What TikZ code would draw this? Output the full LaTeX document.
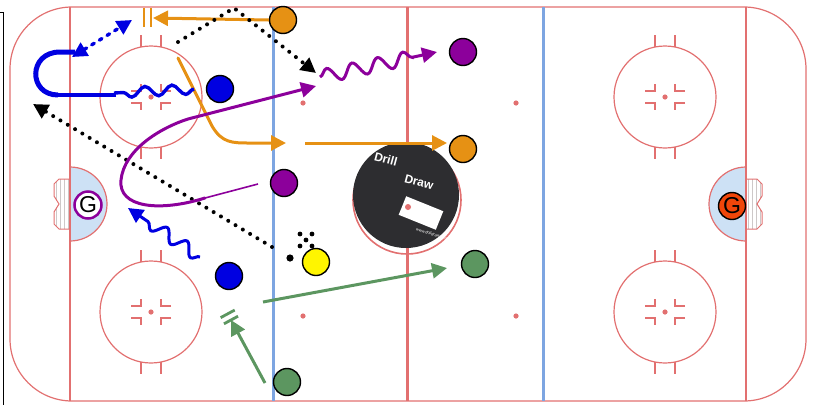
\documentclass[tikz,border=0pt]{standalone}
\usepackage{fontspec}
\setmainfont{Liberation Sans}
\usetikzlibrary{
	arrows.meta, positioning, calc, shapes.geometric,
	decorations.pathmorphing
}
\definecolor{rinkred}{RGB}{226, 112, 112}
\definecolor{rinkblue}{RGB}{125, 165, 225}
\definecolor{creaseblue}{RGB}{205, 225, 245}
\definecolor{netgray}{RGB}{205, 200, 200}
\definecolor{drillorange}{RGB}{230, 145, 20}
\definecolor{drillpurple}{RGB}{140, 0, 155}
\definecolor{drillblue}{RGB}{0, 0, 225}
\definecolor{drillgreen}{RGB}{92, 150, 96}
\definecolor{drillyellow}{RGB}{255, 245, 0}
\definecolor{goalred}{RGB}{240, 70, 10}
\definecolor{puckgray}{RGB}{45, 45, 48}

\begin{document}
\begin{tikzpicture}[x=1pt, y=-1pt,
	rink/.style={draw=rinkred, line width=1.2pt},
	player/.style={circle, draw=black, line width=1.4pt, minimum size=27pt, inner sep=0pt},
	goalie/.style={circle, minimum size=27pt, inner sep=0pt, font=\fontsize{23}{23}\selectfont},
	logotext/.style={text=white, inner sep=0pt, rotate=-15, font=\bfseries\fontsize{12}{12}\selectfont},
	head/.style={-{Triangle[length=15pt, width=15pt]}},
	skate/.style={line width=3pt, line cap=round},
	carry/.style={line width=3pt, decorate, decoration={snake, amplitude=7pt, segment length=26pt, post length=15pt}},
	passline/.style={line width=3pt},
	dots/.style={line width=4pt, line cap=round, dash pattern=on 0pt off 8.5pt}
]
\useasboundingbox (0,0) rectangle (816,405);
\draw[line width=1pt] (0,12) -- (3.5,12) -- (3.5,405);

% creases and nets
\draw[rink, fill=creaseblue] (70,167) arc[start angle=-90, end angle=90, radius=37] -- cycle;
\draw[rink, fill=creaseblue] (746,167) arc[start angle=-90, end angle=-270, radius=37] -- cycle;
\begin{scope}
	\clip (70,179) -- (59,179) -- (54,184) -- (54,196) -- (59,204) -- (54,212) -- (54,224) -- (59,229) -- (70,229) -- cycle;
	\draw[netgray, line width=0.5pt, step=4] (50,232) grid (70,176);
\end{scope}
\begin{scope}
	\clip (746,179) -- (757,179) -- (762,184) -- (762,196) -- (757,204) -- (762,212) -- (762,224) -- (757,229) -- (746,229) -- cycle;
	\draw[netgray, line width=0.5pt, step=4] (746,232) grid (766,176);
\end{scope}
\draw[rink, line width=1pt] (70,179) -- (59,179) -- (54,184) -- (54,196) -- (59,204) -- (54,212) -- (54,224) -- (59,229) -- (70,229);
\draw[rink, line width=1pt] (746,179) -- (757,179) -- (762,184) -- (762,196) -- (757,204) -- (762,212) -- (762,224) -- (757,229) -- (746,229);

% boards and goal lines
\draw[rink, rounded corners=62pt] (10,7) rectangle (806,401);
\begin{scope}
	\clip[rounded corners=62pt] (10,7) rectangle (806,401);
	\draw[rink] (70,0) -- (70,405) (746,0) -- (746,405);
\end{scope}

% end zone faceoff circles
\foreach \cx in {151,665}
	\foreach \cy in {97,312} {
		\draw[rink] (\cx,\cy) circle[radius=51];
		\fill[rinkred] (\cx,\cy) circle[radius=2.6];
		\foreach \s in {-1,1} {
			\draw[rink] (\cx+10*\s,\cy-50) -- ++(0,-12);
			\draw[rink] (\cx+10*\s,\cy+50) -- ++(0,12);
			\draw[rink] (\cx+20*\s,\cy-6) -- (\cx+10*\s,\cy-6) -- (\cx+10*\s,\cy-13);
			\draw[rink] (\cx+20*\s,\cy+6) -- (\cx+10*\s,\cy+6) -- (\cx+10*\s,\cy+13);
		}
	}
\foreach \p in {(303,103),(516,103),(303,316),(516,316)}
	\fill[rinkred] \p circle[radius=2.6];

% blue lines, red line, centre circle
\draw[rinkblue, line width=3pt] (273,7) -- (273,401) (543,7) -- (543,401);
\draw[rinkred, line width=3pt] (407,7) -- (407,401);
\draw[rink, line width=1.6pt] (407,200) circle[radius=54];

% puck logo
\fill[puckgray] (406,195) circle[radius=53];
\node[logotext] (logoA) at (386,159) {Drill};
\node[logotext] (logoB) at (419,182) {Draw};
\node[fill=white, minimum width=40pt, minimum height=20pt, inner sep=0pt, rotate=-22] (card) at (421,213) {};
\fill[rinkred] (408,207) circle[radius=3];
\node[text=white, inner sep=0pt, font=\fontsize{4}{4}\selectfont, rotate=-18] (url) at (432,234) {www.drilldraw.com};

% goalies
\node[goalie, draw=drillpurple, line width=2.5pt, fill=white] (gl) at (88,205) {G};
\node[goalie, draw=black, line width=1.4pt, fill=goalred] (gr) at (732,206) {G};

% players
\node[player, fill=drillorange] (ora1) at (283,20) {};
\node[player, fill=drillpurple] (pur1) at (463,52) {};
\node[player, fill=drillorange] (ora2) at (463,149) {};
\node[player, fill=drillblue] (blu1) at (220,89) {};
\node[player, fill=drillpurple] (pur2) at (284,183) {};
\node[player, fill=drillyellow] (yel1) at (316,262) {};
\node[player, fill=drillblue] (blu2) at (229,276) {};
\node[player, fill=drillgreen] (grn1) at (475,264) {};
\node[player, fill=drillgreen] (grn2) at (287,382) {};

% free ends
\coordinate (ostop) at (153,18);
\coordinate (oskA) at (178,58);
\coordinate (oskB) at (286,143);
\coordinate (opass) at (305,143);
\coordinate (orecv) at (447,143);
\coordinate (dkA) at (178,42);
\coordinate (dkB) at (316,73);
\coordinate (dpA) at (272,247);
\coordinate (dpB) at (33,104);
\coordinate (bdA) at (72,57);
\coordinate (bdB) at (132,20);
\coordinate (bcA) at (194,89);
\coordinate (bcB) at (114,93);
\coordinate (bsA) at (116,95);
\coordinate (bsB) at (75,52);
\coordinate (bwA) at (200,257);
\coordinate (bwB) at (128,208);
\coordinate (psA) at (258,184);
\coordinate (psB) at (205,198);
\coordinate (psC) at (316,86);
\coordinate (pwA) at (320,77);
\coordinate (pwB) at (437,52);
\coordinate (gsA) at (265,383);
\coordinate (gstop) at (231,320);
\coordinate (gpA) at (263,302);
\coordinate (gpB) at (447,268);

% orange
\draw[passline, drillorange, head] (ora1.west) -- (ostop);
\draw[drillorange, line width=2.2pt] (144,8) -- (144,27) (151,8) -- (151,27);
\draw[skate, drillorange, head] (oskA) -- (212,126) .. controls (222,143) and (232,143) .. (250,143) -- (oskB);
\draw[passline, drillorange, head] (opass) -- (orecv);

% black
\draw[dots, head] (dkA) -- (234,8) -- (dkB);
\draw[dots, head] (dpA) -- (dpB);
\foreach \p in {(300,234),(312,234),(306,240),(300,246),(312,246)}
	\fill \p circle[radius=2.4];
\fill (290,258) circle[radius=3.6];

% blue
\draw[drillblue, line width=3.4pt, line cap=round, dash pattern=on 3pt off 6pt,
	{Triangle[length=15pt, width=15pt]}-{Triangle[length=15pt, width=15pt]}] (bdA) -- (bdB);
\draw[drillblue, line width=3.4pt, decorate, decoration={snake, amplitude=5pt, segment length=27pt}] (bcA) -- (bcB);
\draw[drillblue, line width=3.4pt] (bsA) -- (58,95);
\draw[drillblue, line width=5pt] (58,95) .. controls (28,95) and (28,52) .. (60,52) -- (bsB);
\draw[carry, drillblue, decoration={amplitude=6pt, segment length=24pt}, head] (bwA) -- (bwB);

% purple
\draw[drillpurple, line width=1.6pt] (psA) -- (psB);
\draw[skate, drillpurple, head] (psB) .. controls (160,212) and (118,208) .. (121,180) .. controls (124,150) and (160,128) .. (188,119) -- (psC);
\draw[carry, drillpurple, head] (pwA) -- (pwB);

% green
\draw[passline, drillgreen, head] (gsA) -- (gstop);
\coordinate (gbar) at ($(gstop)!-7pt!(gsA)$);
\draw[drillgreen, line width=2.8pt] ($(gstop)!8pt!90:(gsA)$) -- ($(gstop)!8pt!-90:(gsA)$);
\draw[drillgreen, line width=2.8pt] ($(gbar)!8pt!90:(gstop)$) -- ($(gbar)!8pt!-90:(gstop)$);
\draw[passline, drillgreen, head] (gpA) -- (gpB);
\end{tikzpicture}
\end{document}
